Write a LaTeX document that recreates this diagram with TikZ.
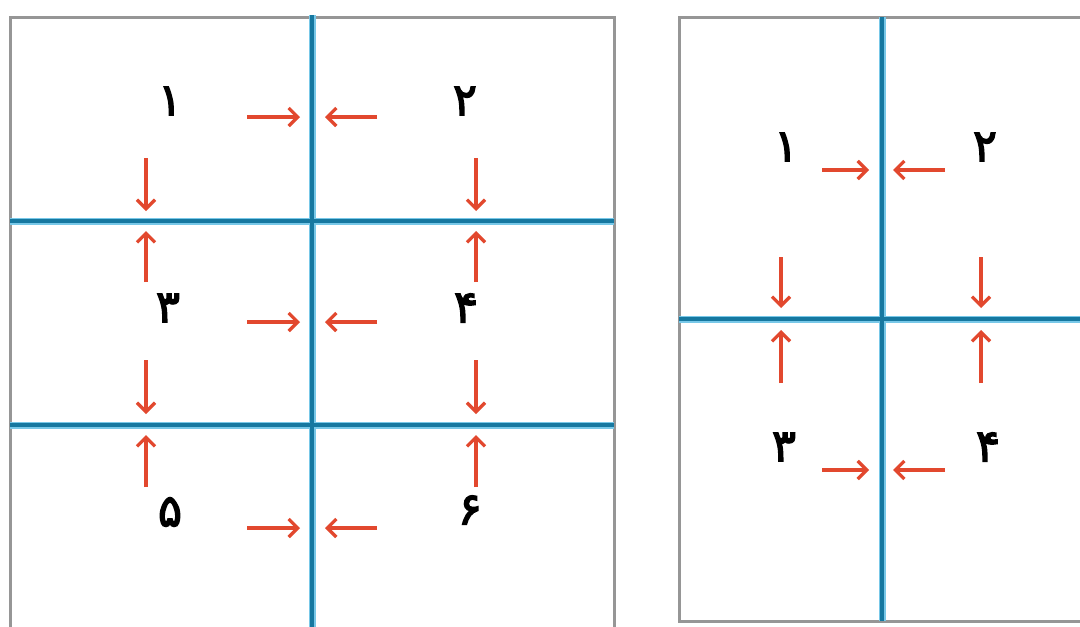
\documentclass[tikz,border=0pt]{standalone}
\usepackage{fontspec}
\usetikzlibrary{arrows.meta}
\TeXXeTstate=1
\newfontfamily\fa[Script=Arabic,FakeBold=3]{DejaVu Sans}
\definecolor{framegray}{RGB}{150,150,150}
\definecolor{wallblue}{RGB}{22,120,160}
\definecolor{glowblue}{RGB}{120,200,232}
\definecolor{arrowred}{RGB}{226,72,46}
\begin{document}
\begin{tikzpicture}[x=1pt,y=-1pt,
  panel/.style={draw=framegray,line width=3pt},
  glow/.style={draw=glowblue,line width=7pt},
  wall/.style={draw=wallblue,line width=3.5pt},
  push/.style={draw=arrowred,line width=3.3pt,-{Straight Barb[length=9pt,width=18pt]}},
  num/.style={font=\fa\fontsize{45}{45}\selectfont,inner sep=0pt}]
\useasboundingbox (0,0) rectangle (1080,627);
\fill[white] (0,0) rectangle (1080,627);
% ---------- left panel ----------
\draw[panel] (10,17) rectangle (614,640);
\draw[glow] (312,15) -- (312,627);
\draw[glow] (10,221) -- (614,221);
\draw[glow] (10,425) -- (614,425);
\draw[wall] (312,15) -- (312,627);
\draw[wall] (10,221) -- (614,221);
\draw[wall] (10,425) -- (614,425);
\node[num] (L1) at (170,101) {\beginR ۱\endR};
\node[num] (L2) at (465,101) {\beginR ۲\endR};
\node[num] (L3) at (168,308) {\beginR ۳\endR};
\node[num] (L4) at (466,308) {\beginR ۴\endR};
\node[num] (L5) at (170,512) {\beginR ۵\endR};
\node[num] (L6) at (470,510) {\beginR ۶\endR};
% horizontal arrows
\foreach \y/\n in {117/a,322/b,528/c}{
  \coordinate (ls\n) at (247,\y); \coordinate (le\n) at (300,\y);
  \coordinate (rs\n) at (377,\y); \coordinate (re\n) at (325,\y);
  \draw[push] (ls\n) -- (le\n);
  \draw[push] (rs\n) -- (re\n);
}
% vertical arrows
\foreach \x/\n in {146/p,476/q}{
  \coordinate (d1s\n) at (\x,158); \coordinate (d1e\n) at (\x,211);
  \coordinate (u1s\n) at (\x,282); \coordinate (u1e\n) at (\x,231);
  \coordinate (d2s\n) at (\x,360); \coordinate (d2e\n) at (\x,414);
  \coordinate (u2s\n) at (\x,487); \coordinate (u2e\n) at (\x,435);
  \draw[push] (d1s\n) -- (d1e\n);
  \draw[push] (u1s\n) -- (u1e\n);
  \draw[push] (d2s\n) -- (d2e\n);
  \draw[push] (u2s\n) -- (u2e\n);
}
% ---------- right panel ----------
\draw[panel] (679,17) rectangle (1100,621);
\draw[glow] (882,17) -- (882,621);
\draw[glow] (679,319) -- (1080,319);
\draw[wall] (882,17) -- (882,621);
\draw[wall] (679,319) -- (1080,319);
\node[num] (R1) at (786,147) {\beginR ۱\endR};
\node[num] (R2) at (985,147) {\beginR ۲\endR};
\node[num] (R3) at (784,447) {\beginR ۳\endR};
\node[num] (R4) at (988,447) {\beginR ۴\endR};
\foreach \y/\n in {170/a,470/b}{
  \coordinate (Rls\n) at (822,\y); \coordinate (Rle\n) at (869,\y);
  \coordinate (Rrs\n) at (945,\y); \coordinate (Rre\n) at (893,\y);
  \draw[push] (Rls\n) -- (Rle\n);
  \draw[push] (Rrs\n) -- (Rre\n);
}
\foreach \x/\n in {781/p,981/q}{
  \coordinate (Rds\n) at (\x,257); \coordinate (Rde\n) at (\x,308);
  \coordinate (Rus\n) at (\x,383); \coordinate (Rue\n) at (\x,330);
  \draw[push] (Rds\n) -- (Rde\n);
  \draw[push] (Rus\n) -- (Rue\n);
}
\end{tikzpicture}
\end{document}
